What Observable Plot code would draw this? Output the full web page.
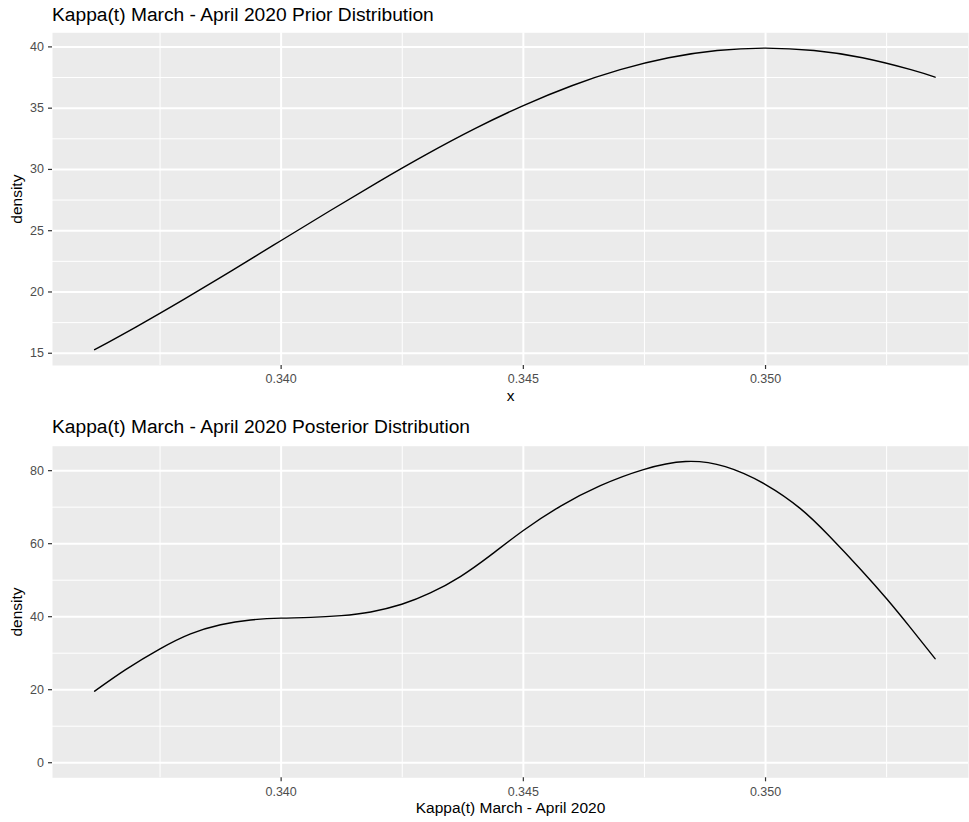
<!DOCTYPE html>
<html>
<head>
<meta charset="utf-8">
<script src="https://cdn.jsdelivr.net/npm/d3@7"></script>
<script src="https://cdn.jsdelivr.net/npm/@observablehq/plot@0.6"></script>
<style>
  body { margin: 0; background: white; }
  #wrap { position: relative; width: 969px; height: 822px; font-family: "Liberation Sans", Arial, Helvetica, sans-serif; }
  .title { position: absolute; left: 52px; font-size: 19.2px; line-height: 19.2px; color: #000; white-space: nowrap; z-index: 2; }
  #p1, #p2 { position: absolute; left: 0; }
  #p1 { top: 0; } #p2 { top: 411px; }
</style>
</head>
<body>
<div id="wrap">
  <div id="p1"></div>
  <div id="p2"></div>
  <div class="title" id="t1" style="top:4.5px">Kappa(t) March - April 2020 Prior Distribution</div>
  <div class="title" id="t2" style="top:417.1px">Kappa(t) March - April 2020 Posterior Distribution</div>
</div>
<script>
// ---- data ----
const xTicks = [0.340, 0.345, 0.350];
const xMinor = [0.3375, 0.3425, 0.3475, 0.3525];
const priorYTicks = [15, 20, 25, 30, 35, 40];
const priorYMinor = [17.5, 22.5, 27.5, 32.5, 37.5];
const postYTicks = [0, 20, 40, 60, 80];
const postYMinor = [10, 30, 50, 70];

const priorX = [0.33615, 0.3370, 0.3380, 0.3390, 0.3400, 0.3410, 0.3420, 0.3430, 0.3440, 0.3450,
                0.3460, 0.3470, 0.3480, 0.3490, 0.3500, 0.3510, 0.3520, 0.3530, 0.3535];
const priorDensity = [15.29, 17.14, 19.42, 21.79, 24.20, 26.61, 28.97, 31.23, 33.33, 35.21,
                      36.83, 38.14, 39.11, 39.70, 39.90, 39.70, 39.11, 38.14, 37.53];

const postX = [0.33615, 0.33679, 0.3375, 0.33813, 0.33875, 0.33937, 0.3400, 0.34061, 0.34124, 0.34185,
               0.34249, 0.34308, 0.3437, 0.34432, 0.3450, 0.34577, 0.34659, 0.34748, 0.34835, 0.34917,
               0.3500, 0.35072, 0.3513, 0.35196, 0.3525, 0.35299, 0.3535];
const postDensity = [19.6, 25.5, 31.2, 35.3, 37.8, 39.1, 39.6, 39.8, 40.3, 41.3,
                     43.4, 46.5, 51.0, 56.8, 63.6, 70.3, 75.9, 80.3, 82.5, 81.1,
                     76.2, 69.6, 62.3, 53.0, 44.9, 37.0, 28.5];

const xDomain = [0.33528, 0.35419];

const prior = priorX.map((x, i) => ({x, density: priorDensity[i]}));
const post = postX.map((x, i) => ({x, density: postDensity[i]}));

const FONT = "'Liberation Sans', Arial, Helvetica, sans-serif";

function panel({data, yDomain, yTicks, yMinor, xLabel, marginTop, marginBottom}) {
  return Plot.plot({
    width: 969,
    height: 411,
    marginTop, marginBottom,
    marginLeft: 52, marginRight: 1,
    style: {fontFamily: FONT, background: "white", overflow: "visible"},
    x: {domain: xDomain},
    y: {domain: yDomain},
    marks: [
      Plot.frame({fill: "#EBEBEB", stroke: null}),
      Plot.gridX(xMinor, {stroke: "white", strokeOpacity: 1, strokeWidth: 1}),
      Plot.gridY(yMinor, {stroke: "white", strokeOpacity: 1, strokeWidth: 1}),
      Plot.gridX(xTicks, {stroke: "white", strokeOpacity: 1, strokeWidth: 2}),
      Plot.gridY(yTicks, {stroke: "white", strokeOpacity: 1, strokeWidth: 2}),
      Plot.line(data, {x: "x", y: "density", stroke: "black", strokeWidth: 1.4, curve: "natural"}),
      Plot.axisX(xTicks, {tickFormat: d3.format(".3f"), tickSize: 4, tickPadding: 5, fontSize: 12.5,
        fill: "#4D4D4D", stroke: "#333333", strokeWidth: 1.2, label: null}),
      Plot.axisY(yTicks, {tickFormat: d3.format("d"), tickSize: 4, tickPadding: 4.5, fontSize: 12.5,
        fill: "#4D4D4D", stroke: "#333333", strokeWidth: 1.2, label: null}),
      Plot.axisX({ticks: [], label: xLabel, labelAnchor: "center", labelOffset: 35.5, labelArrow: "none",
        fontSize: 15.5, fill: "black"}),
      Plot.axisY({ticks: [], label: "density", labelAnchor: "center", labelOffset: 41.7, labelArrow: "none",
        fontSize: 15.5, fill: "black"})
    ]
  });
}

document.getElementById("p1").appendChild(panel({
  data: prior, yDomain: [14.0, 41.15], yTicks: priorYTicks, yMinor: priorYMinor,
  xLabel: "x", marginTop: 32.3, marginBottom: 46
}));
document.getElementById("p2").appendChild(panel({
  data: post, yDomain: [-4.13, 86.7], yTicks: postYTicks, yMinor: postYMinor,
  xLabel: "Kappa(t) March - April 2020", marginTop: 34.7, marginBottom: 44.7
}));
</script>
</body>
</html>
